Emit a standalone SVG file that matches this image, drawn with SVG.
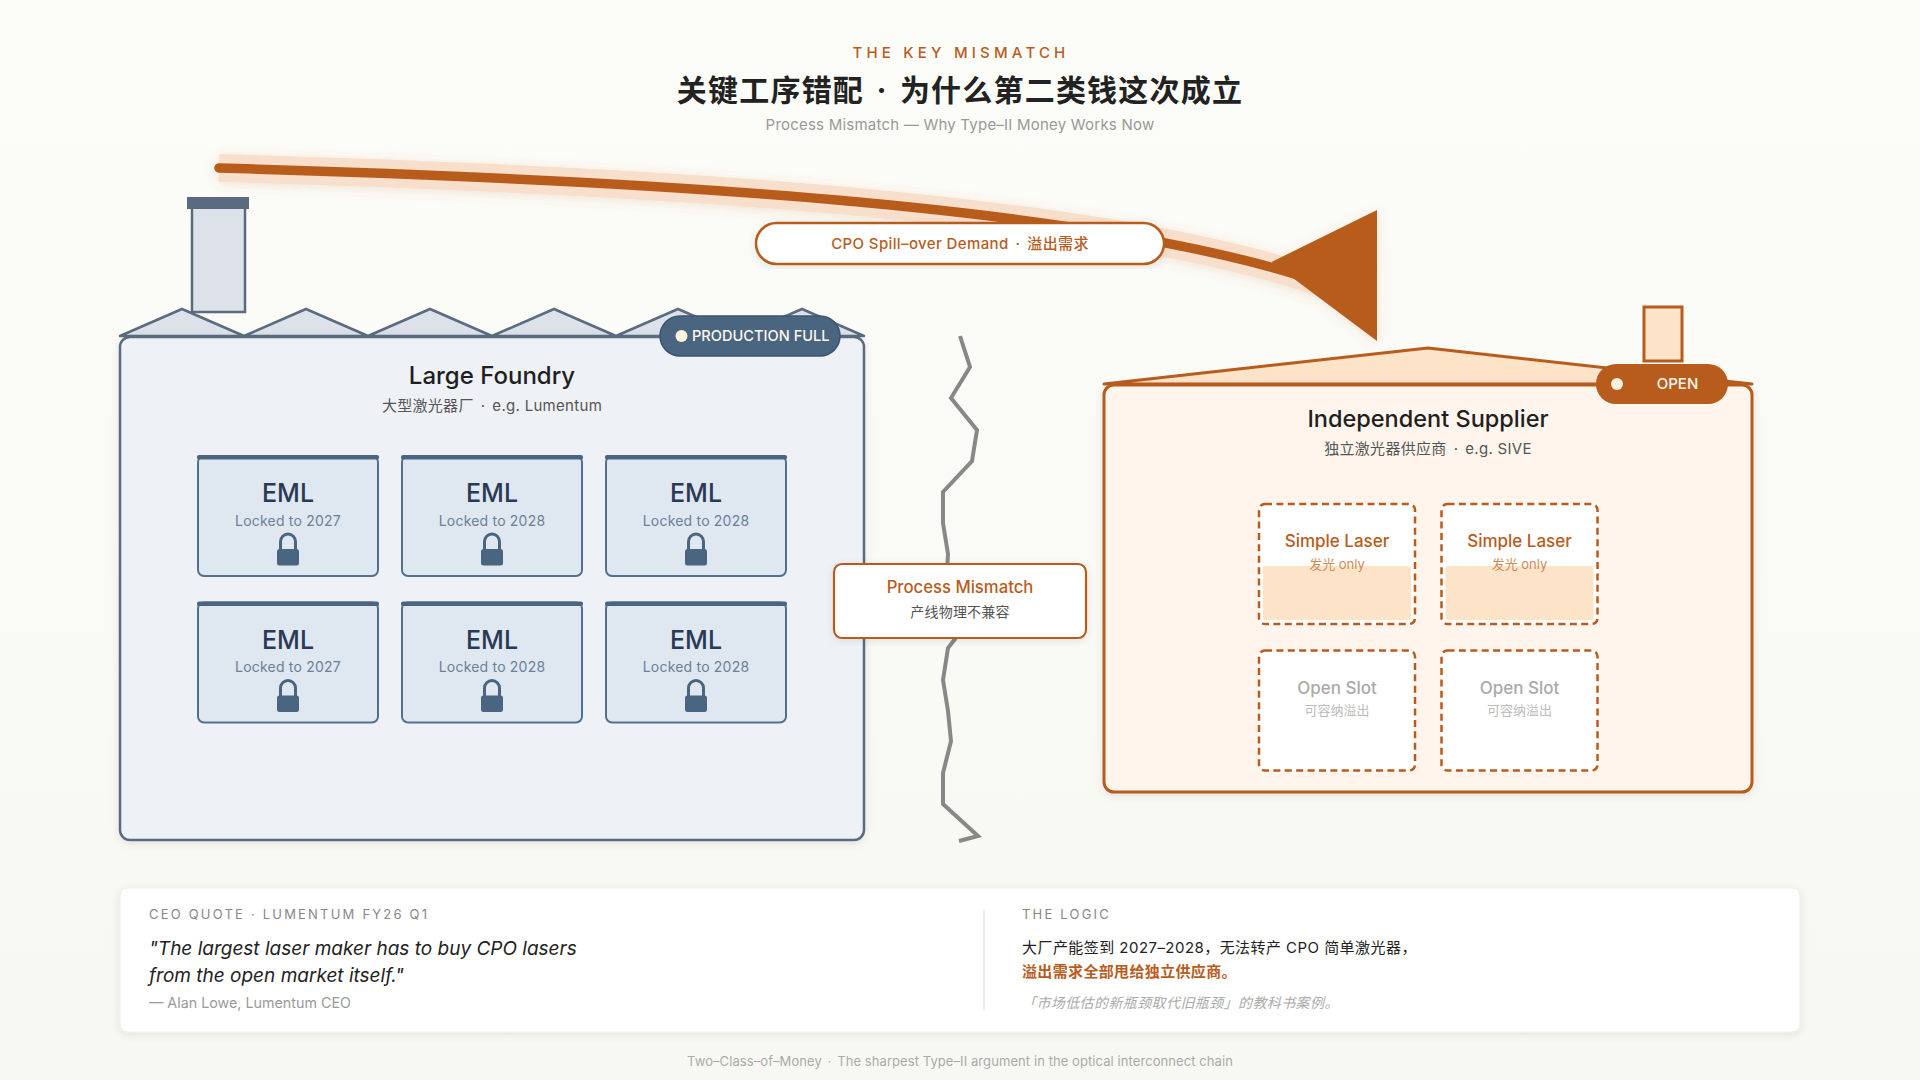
<svg xmlns="http://www.w3.org/2000/svg" width="1920" height="1080" viewBox="0 0 1920 1080">
<style>
text{font-family:Inter,"Noto Sans CJK SC",sans-serif}
.m{text-anchor:middle}
.or{fill:#b85c1e}
.h2{font-size:24px;font-weight:500;fill:#1f1f1f}
.h3{font-size:15px;fill:#555;letter-spacing:.3px}
.cell{fill:#dfe7f0;stroke:#54708e;stroke-width:2}
.bar{fill:#4a6580}
.eml{font-size:25px;font-weight:500;fill:#2a3a55}
.lk{font-size:14px;letter-spacing:.2px;fill:#6b8199}
.shk{fill:none;stroke:#4a6580;stroke-width:3}
.slot{fill:#fff;stroke:#b85c1e;stroke-width:2.5;stroke-dasharray:7 4.4}
.glow{fill:#fde3c8}
.sl{font-size:17px;font-weight:500;fill:#b85c1e}
.ss{font-size:13px;fill:#cf8a57}
.ol{font-size:17px;font-weight:500;fill:#aaa}
.os{font-size:13px;fill:#bbb}
.cap{font-size:13px;letter-spacing:2.2px;fill:#888}
.q{font-size:19px;font-style:italic;fill:#222}
</style>
<defs>
<linearGradient id="bg" x1="0" y1="0" x2="0" y2="1"><stop offset="0" stop-color="#fcfcf8"/><stop offset="1" stop-color="#f8f8f3"/></linearGradient>
<filter id="sh" x="-10%" y="-10%" width="120%" height="120%"><feDropShadow dx="0" dy="2" stdDeviation="4" flood-color="#000" flood-opacity=".09"/></filter>
<filter id="gl" x="-5%" y="-30%" width="110%" height="160%"><feDropShadow dx="0" dy="2" stdDeviation="6" flood-color="#b85c1e" flood-opacity=".14"/></filter>
<g id="lock"><path class="shk" d="M-7.500 110v-8.500a7.500 7.500 0 0 1 15 0v8.500"/><rect class="bar" x="-11" y="109" width="22" height="16.500" rx="2.500"/></g>
</defs>
<rect width="1920" height="1080" fill="url(#bg)"/>

<g id="title">
<text class="m or" x="961" y="57.500" font-size="15" letter-spacing="4.200" font-weight="500">THE KEY MISMATCH</text>
<text class="m" x="960" y="101" font-size="30" letter-spacing="1.200" font-weight="700" fill="#222">关键工序错配 <tspan dx="4">·</tspan><tspan dx="4"> 为什么第二类钱这次成立</tspan></text>
<text class="m" x="960" y="129.500" font-size="15" letter-spacing=".22" fill="#999">Process Mismatch — Why Type–II Money Works Now</text>
</g>

<g id="foundry">
<rect x="192" y="205" width="53" height="107" fill="#dde2ea" stroke="#5a6b80" stroke-width="2.500"/>
<rect x="187" y="197" width="62" height="12" fill="#5a6b80"/>
<path d="M120 336L182 309L244 336L306 309L368 336L430 309L492 336L554 309L616 336L678 309L740 336L802 309L864 336Z" fill="#dde2ea" stroke="#5a6b80" stroke-width="2.500" stroke-linejoin="round"/>
<rect x="120" y="337" width="744" height="503" rx="10" fill="#eef1f6" stroke="#5a6b80" stroke-width="2.500" filter="url(#sh)"/>
<text class="m h2" x="492" y="384">Large Foundry</text>
<text class="m h3" x="492" y="410.500">大型激光器厂 <tspan dx="2.500">·</tspan><tspan dx="2.500"> e.g. Lumentum</tspan></text>
</g>
<g id="badge-full">
<rect x="660" y="316" width="180" height="40" rx="20" fill="#4a6580" stroke="#3d5470" stroke-width="1.500"/>
<circle cx="681.500" cy="336" r="6" fill="#fdf0dc"/>
<text x="692" y="341" font-size="14.600" font-weight="500" fill="#fdf6ec">PRODUCTION FULL</text>
</g>

<g id="eml-1"><rect class="cell" x="198" y="456" width="180" height="120" rx="6"/><rect class="bar" x="197" y="455" width="182" height="4.500" rx="2"/><text class="m eml" x="288" y="502">EML</text><text class="m lk" x="288" y="525.500">Locked to 2027</text><use href="#lock" x="288" y="440"/></g>
<g id="eml-2"><rect class="cell" x="402" y="456" width="180" height="120" rx="6"/><rect class="bar" x="401" y="455" width="182" height="4.500" rx="2"/><text class="m eml" x="492" y="502">EML</text><text class="m lk" x="492" y="525.500">Locked to 2028</text><use href="#lock" x="492" y="440"/></g>
<g id="eml-3"><rect class="cell" x="606" y="456" width="180" height="120" rx="6"/><rect class="bar" x="605" y="455" width="182" height="4.500" rx="2"/><text class="m eml" x="696" y="502">EML</text><text class="m lk" x="696" y="525.500">Locked to 2028</text><use href="#lock" x="696" y="440"/></g>
<g id="eml-4"><rect class="cell" x="198" y="602.500" width="180" height="120" rx="6"/><rect class="bar" x="197" y="601.500" width="182" height="4.500" rx="2"/><text class="m eml" x="288" y="648.500">EML</text><text class="m lk" x="288" y="672">Locked to 2027</text><use href="#lock" x="288" y="586.500"/></g>
<g id="eml-5"><rect class="cell" x="402" y="602.500" width="180" height="120" rx="6"/><rect class="bar" x="401" y="601.500" width="182" height="4.500" rx="2"/><text class="m eml" x="492" y="648.500">EML</text><text class="m lk" x="492" y="672">Locked to 2028</text><use href="#lock" x="492" y="586.500"/></g>
<g id="eml-6"><rect class="cell" x="606" y="602.500" width="180" height="120" rx="6"/><rect class="bar" x="605" y="601.500" width="182" height="4.500" rx="2"/><text class="m eml" x="696" y="648.500">EML</text><text class="m lk" x="696" y="672">Locked to 2028</text><use href="#lock" x="696" y="586.500"/></g>

<g id="supplier">
<rect x="1644" y="307" width="38" height="54" fill="#fde3c8" stroke="#b85c1e" stroke-width="3"/>
<path d="M1104 384L1428 348L1752 384Z" fill="#fde3c8" stroke="#b85c1e" stroke-width="3" stroke-linejoin="round"/>
<rect x="1104" y="385" width="648" height="407" rx="10" fill="#fff5ec" stroke="#b85c1e" stroke-width="3" filter="url(#sh)"/>
<text class="m h2" x="1428" y="427" style="font-size:23.500px">Independent Supplier</text>
<text class="m h3" x="1428" y="454">独立激光器供应商 <tspan dx="2.500">·</tspan><tspan dx="2.500"> e.g. SIVE</tspan></text>
</g>
<g id="badge-open">
<rect x="1596" y="364" width="132" height="40" rx="20" fill="#b85c1e"/>
<circle cx="1617" cy="384" r="6" fill="#fdf0dc"/>
<text class="m" x="1677.500" y="389" font-size="15" font-weight="500" fill="#fdf6ec">OPEN</text>
</g>

<g id="slot-1"><rect class="slot" x="1259" y="504" width="156" height="120" rx="6"/><rect class="glow" x="1263" y="566" width="148" height="54" rx="3"/><text class="m sl" x="1337" y="547">Simple Laser</text><text class="m ss" x="1337" y="568.500">发光 only</text></g>
<g id="slot-2"><rect class="slot" x="1441.500" y="504" width="156" height="120" rx="6"/><rect class="glow" x="1445.500" y="566" width="148" height="54" rx="3"/><text class="m sl" x="1519.500" y="547">Simple Laser</text><text class="m ss" x="1519.500" y="568.500">发光 only</text></g>
<g id="slot-3"><rect class="slot" x="1259" y="650.500" width="156" height="120" rx="6"/><text class="m ol" x="1337" y="693.500">Open Slot</text><text class="m os" x="1337" y="715">可容纳溢出</text></g>
<g id="slot-4"><rect class="slot" x="1441.500" y="650.500" width="156" height="120" rx="6"/><text class="m ol" x="1519.500" y="693.500">Open Slot</text><text class="m os" x="1519.500" y="715">可容纳溢出</text></g>

<g id="connectors">
<polyline id="crack" fill="none" stroke="#888" stroke-width="4" points="960,336 970,367 951,398 977,430 972,461 943,492 943,523 948,554 946,586 960,617 955,639 948,648 943,680 948,711 951,741 943,773 943,804 978,836 959,841"/>
<g id="spill" filter="url(#gl)">
<path d="M219 168C650 180 1180 208 1375 305" fill="none" stroke="#f7dfcc" stroke-width="28" pathLength="100" stroke-dasharray="99 10"/>
<path d="M219 168C650 180 1180 208 1375 305" fill="none" stroke="#b85c1e" stroke-width="9.500" stroke-linecap="round" pathLength="100" stroke-dasharray="95 20"/>
<polygon points="1377,210 1377,341 1271.500,262" fill="#b85c1e"/>
</g>
</g>

<g id="label-cpo">
<rect x="756" y="223" width="408" height="41" rx="20.500" fill="#fff" stroke="#b85c1e" stroke-width="2.500" filter="url(#sh)"/>
<text class="m or" x="960" y="249" font-size="15" letter-spacing=".38" font-weight="500">CPO Spill–over Demand <tspan dx="2.500">·</tspan><tspan dx="2.500"> 溢出需求</tspan></text>
</g>
<g id="label-mismatch">
<rect x="834" y="564" width="252" height="74" rx="8" fill="#fff" stroke="#b85c1e" stroke-width="2.200" filter="url(#sh)"/>
<text class="m or" x="960" y="593" font-size="16.700" font-weight="500">Process Mismatch</text>
<text class="m" x="960" y="616.500" font-size="14" letter-spacing=".2" fill="#555">产线物理不兼容</text>
</g>

<g id="panel">
<rect x="120" y="888" width="1680" height="144" rx="8" fill="#fff" stroke="#eee" filter="url(#sh)"/>
<line x1="984" y1="910" x2="984" y2="1010" stroke="#e5e5e5" stroke-width="1.500"/>
<text class="cap" x="149" y="919">CEO QUOTE · LUMENTUM FY26 Q1</text>
<text class="q" x="149" y="955">"The largest laser maker has to buy CPO lasers</text>
<text class="q" x="149" y="982">from the open market itself."</text>
<text x="149" y="1008" font-size="14.300" fill="#999">— Alan Lowe, Lumentum CEO</text>
<text class="cap" x="1022" y="919">THE LOGIC</text>
<text x="1022" y="953" font-size="15" letter-spacing=".45" fill="#222">大厂产能签到 2027–2028，无法转产 CPO 简单激光器，</text>
<text x="1022" y="977" font-size="15" letter-spacing=".35" font-weight="700" fill="#b85c1e">溢出需求全部甩给独立供应商。</text>
<text x="1022" y="1007.500" font-size="14" letter-spacing=".4" font-style="italic" fill="#aaa">「市场低估的新瓶颈取代旧瓶颈」的教科书案例。</text>
</g>
<text id="footer" class="m" x="960" y="1066" font-size="13" letter-spacing=".08" fill="#aaa">Two–Class–of–Money <tspan dx="2">·</tspan><tspan dx="2"> The sharpest Type–II argument in the optical interconnect chain</tspan></text>
</svg>
